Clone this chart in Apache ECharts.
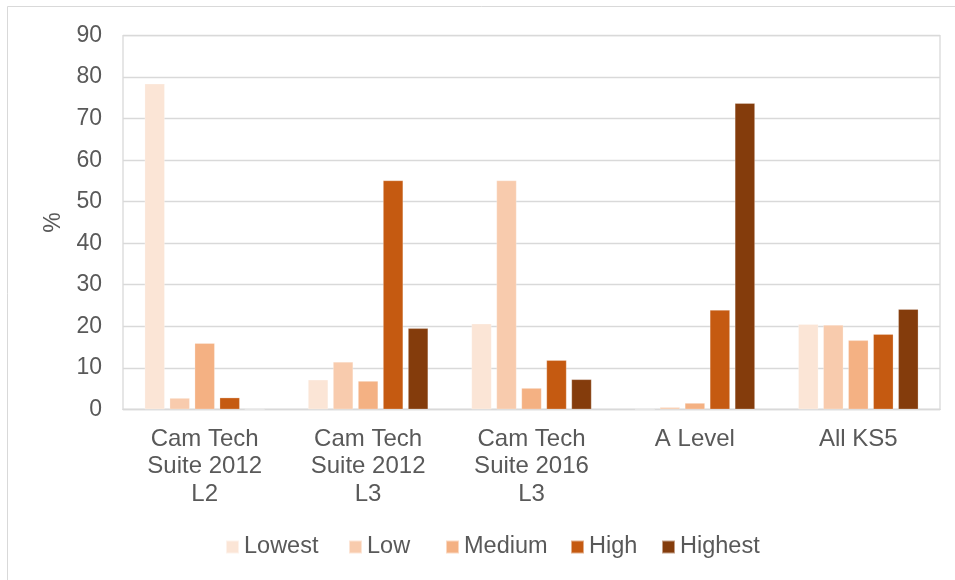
<!DOCTYPE html>
<html>
<head>
<meta charset="utf-8">
<script src="https://cdn.jsdelivr.net/npm/echarts@6/dist/echarts.min.js"></script>
<style>
html,body{margin:0;padding:0;background:#fff;}
#chart{width:955px;height:580px;}
</style>
</head>
<body>
<div id="chart"></div>
<script>
const categories = ["Cam Tech\nSuite 2012\nL2", "Cam Tech\nSuite 2012\nL3", "Cam Tech\nSuite 2016\nL3", "A Level", "All KS5"];
const seriesNames = ["Lowest", "Low", "Medium", "High", "Highest"];
const lowest  = [78.4, 7.1, 20.6, 0, 20.5];
const low     = [2.7, 11.4, 55.1, 0.5, 20.3];
const medium  = [15.9, 6.8, 5.1, 1.5, 16.6];
const high    = [2.8, 55.1, 11.8, 23.9, 18.1];
const highest = [0, 19.5, 7.2, 73.7, 24.1];
const colors = ["#FBE5D6", "#F8CBAD", "#F4B183", "#C55A11", "#843C0C"];
const yTicks = { min: 0, max: 90, interval: 10 };

const dataSets = [lowest, low, medium, high, highest];
const legendLeft = [225, 348, 445, 570, 661];
const FONT = "Liberation Sans, Arial, sans-serif";
const chart = echarts.init(document.getElementById('chart'), null, {renderer: 'canvas'});
chart.setOption({
  animation: false,
  backgroundColor: '#fff',
  graphic: [{
    type: 'rect', shape: {x: 7.5, y: 6.5, width: 1000, height: 1000},
    style: {fill: 'none', stroke: '#d9d9d9', lineWidth: 1}, silent: true, z: -1
  }],
  grid: {left: 123, right: 15, top: 35.6, bottom: 170.7, show: true, borderColor: '#d9d9d9', borderWidth: 1.3},
  legend: seriesNames.map((n, i) => ({
    left: legendLeft[i], top: 530, padding: [5, 0, 5, 0],
    itemWidth: 13, itemHeight: 13, itemGap: 0,
    icon: 'rect',
    textStyle: {color: '#595959', fontSize: 23.5, fontFamily: FONT},
    data: [n]
  })),
  xAxis: {
    type: 'category', data: categories,
    axisLine: {lineStyle: {color: '#d9d9d9', width: 1.3}},
    axisTick: {show: false},
    axisLabel: {color: '#595959', fontSize: 24, fontFamily: FONT, lineHeight: 27.5, margin: 16, interval: 0}
  },
  yAxis: {
    type: 'value', min: yTicks.min, max: yTicks.max, interval: yTicks.interval,
    name: '%', nameLocation: 'middle', nameRotate: 90, nameGap: 53,
    nameTextStyle: {color: '#595959', fontSize: 23, fontFamily: FONT},
    axisLine: {show: false}, axisTick: {show: false},
    axisLabel: {color: '#595959', fontSize: 23, fontFamily: FONT, margin: 21},
    splitLine: {lineStyle: {color: '#d9d9d9', width: 1.3}}
  },
  series: seriesNames.map((n, i) => ({
    name: n, type: 'bar', data: dataSets[i],
    barWidth: 20, barGap: '25%', barCategoryGap: '26.5%',
    itemStyle: {color: colors[i], borderColor: 'rgba(255,255,255,0.5)', borderWidth: 0.5}
  }))
});
</script>
</body>
</html>
